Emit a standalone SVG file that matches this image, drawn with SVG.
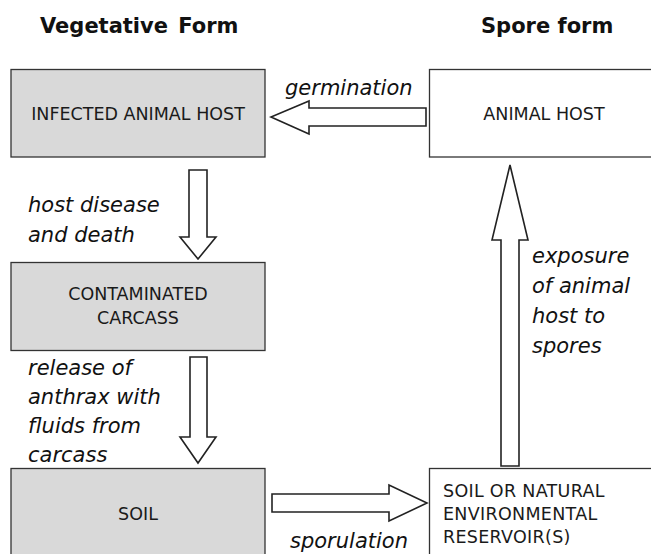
<svg xmlns="http://www.w3.org/2000/svg" width="651" height="554" viewBox="0 0 651 554">
<style>
.bg{fill:#ffffff}
.box{stroke:#333333;stroke-width:1.3}
.veg{fill:#d9d9d9}
.spore{fill:#ffffff}
.lbl{font-family:"DejaVu Sans","Verdana",sans-serif;font-size:17.5px;fill:#1a1a1a}
.title{font-family:"DejaVu Sans","Verdana",sans-serif;font-size:21px;font-weight:bold;fill:#111111}
.it{font-family:"DejaVu Sans","Verdana",sans-serif;font-size:21px;font-style:italic;fill:#111111}
.arrow{fill:#ffffff;stroke:#222222;stroke-width:1.6;stroke-linejoin:miter}
</style>
<rect class="bg" x="0" y="0" width="651" height="554"/>
<g id="titles">
<text class="title" x="40" y="33" word-spacing="3">Vegetative Form</text>
<text class="title" x="481" y="33">Spore form</text>
</g>
<g id="infected-host">
<rect class="box veg" x="11" y="69.5" width="254" height="87.5"/>
<text class="lbl" x="138" y="120" text-anchor="middle">INFECTED ANIMAL HOST</text>
</g>
<g id="animal-host">
<rect class="box spore" x="429.5" y="69.5" width="230" height="87.5"/>
<text class="lbl" x="544" y="120" text-anchor="middle">ANIMAL HOST</text>
</g>
<g id="carcass">
<rect class="box veg" x="11" y="262.5" width="254" height="88"/>
<text class="lbl" x="138" y="300" text-anchor="middle">CONTAMINATED</text>
<text class="lbl" x="138" y="324" text-anchor="middle">CARCASS</text>
</g>
<g id="soil">
<rect class="box veg" x="11" y="468.5" width="254" height="100"/>
<text class="lbl" x="138" y="520" text-anchor="middle">SOIL</text>
</g>
<g id="reservoir">
<rect class="box spore" x="429.5" y="468.5" width="230" height="100"/>
<text class="lbl" x="443" y="497" letter-spacing="0.3">SOIL OR NATURAL</text>
<text class="lbl" x="443" y="520" letter-spacing="0.3">ENVIRONMENTAL</text>
<text class="lbl" x="443" y="543" letter-spacing="0.3">RESERVOIR(S)</text>
</g>
<g id="connectors">
<path class="arrow" d="M426,108 L309,108 L309,101 L271,117 L309,134 L309,126 L426,126 Z"/>
<path class="arrow" d="M189,170 L207,170 L207,237 L216,237 L198,259 L180,237 L189,237 Z"/>
<path class="arrow" d="M190,357 L207,357 L207,437 L216,437 L198,463 L180,437 L190,437 Z"/>
<path class="arrow" d="M272,494 L389,494 L389,485 L427,503 L389,521 L389,512 L272,512 Z"/>
<path class="arrow" d="M501,466 L501,240 L492,240 L510,165 L528,240 L519,240 L519,466 Z"/>
</g>
<g id="edge-labels">
<text class="it" x="285" y="95">germination</text>
<text class="it" x="28" y="212">host disease</text>
<text class="it" x="28" y="242">and death</text>
<text class="it" x="28" y="375">release of</text>
<text class="it" x="28" y="404">anthrax with</text>
<text class="it" x="28" y="433">fluids from</text>
<text class="it" x="28" y="462">carcass</text>
<text class="it" x="532" y="263">exposure</text>
<text class="it" x="532" y="293">of animal</text>
<text class="it" x="532" y="323">host to</text>
<text class="it" x="532" y="353">spores</text>
<text class="it" x="290" y="548">sporulation</text>
</g>
</svg>
